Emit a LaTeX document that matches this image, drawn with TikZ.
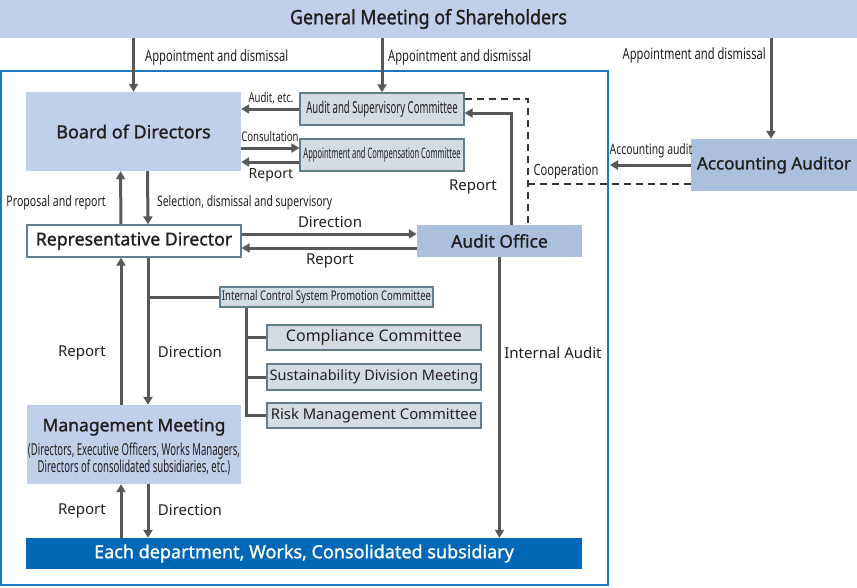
\documentclass[tikz,border=0pt]{standalone}
\usepackage{fontspec}
\setmainfont{Noto Sans}
\newfontfamily\cond[FakeStretch=0.72]{Noto Sans}
\newfontfamily\xxcond[FakeStretch=0.58]{Noto Sans}
\newfontfamily\xxxcond[FakeStretch=0.52]{Noto Sans}
\newfontfamily\med[FakeBold=1.2]{Noto Sans}
\newfontfamily\semicond[FakeStretch=0.9,FakeBold=1.2]{Noto Sans}
\usetikzlibrary{arrows.meta,calc}
\definecolor{banner}{RGB}{193,207,234}
\definecolor{boardc}{RGB}{193,207,234}
\definecolor{officec}{RGB}{173,191,223}
\definecolor{commfill}{RGB}{211,220,227}
\definecolor{commdraw}{RGB}{100,125,142}
\definecolor{deptc}{RGB}{0,104,183}
\definecolor{framec}{RGB}{30,120,190}
\definecolor{linec}{RGB}{88,88,88}
\definecolor{txt}{RGB}{35,30,30}
\tikzset{
  box/.style={inner sep=0pt, align=center, text=txt},
  bigbox/.style={box, fill=boardc, font=\fontsize{18}{19}\selectfont\med},
  officebox/.style={box, fill=officec, font=\fontsize{17.5}{19}\selectfont\med},
  commbox/.style={box, fill=commfill, draw=commdraw, line width=1.3pt},
  arr/.style={draw=linec, line width=3pt, -{Triangle[length=8pt,width=9pt]}},
  plain/.style={draw=linec, line width=3pt},
  dashline/.style={draw=txt!90, line width=2pt, dash pattern=on 7pt off 5pt},
  lab/.style={inner sep=0pt, text=txt, yshift=-1.5pt, font=\fontsize{15}{17}\selectfont},
  clab/.style={inner sep=0pt, text=txt, yshift=-1pt, font=\fontsize{15.5}{17}\selectfont\cond},
  slab/.style={inner sep=0pt, text=txt, yshift=-1pt, font=\fontsize{13.3}{15}\selectfont\cond},
}
\begin{document}
\begin{tikzpicture}[x=1pt,y=-1pt]
\useasboundingbox (0,0) rectangle (857,587);
% frame
\draw[framec, line width=1.5pt] (1,71) rectangle (608,585);
% nodes
\node[box, fill=banner, minimum width=857pt, minimum height=38pt, font=\fontsize{19.8}{21}\selectfont\semicond] (gm) at (428.5,19) {General Meeting of Shareholders};
\node[bigbox, minimum width=215pt, minimum height=79pt] (board) at (133.5,131.5) {Board of Directors};
\node[commbox, minimum width=164pt, minimum height=32pt, font=\fontsize{16.5}{17}\selectfont\xxcond] (asc) at (382,109) {Audit and Supervisory Committee};
\node[commbox, minimum width=164pt, minimum height=32pt, font=\fontsize{14.5}{15}\selectfont\xxxcond] (acc) at (382,155) {Appointment and Compensation Committee};
\node[box, fill=white, draw=commdraw, line width=1.3pt, minimum width=214pt, minimum height=32pt, font=\fontsize{17.7}{19}\selectfont\med] (rep) at (134,241) {Representative Director};
\node[officebox, minimum width=165pt, minimum height=32pt] (ao) at (499.5,241) {Audit Office};
\node[officebox, minimum width=166pt, minimum height=52pt, font=\fontsize{17}{19}\selectfont\med] (aa) at (774,165) {Accounting Auditor};
\node[commbox, minimum width=213pt, minimum height=20pt, font=\fontsize{13.3}{14}\selectfont\cond] (ics) at (326.5,297) {Internal Control System Promotion Committee};
\node[commbox, minimum width=214pt, minimum height=25pt, font=\fontsize{16}{17}\selectfont] (comp) at (374,337.5) {Compliance Committee};
\node[commbox, minimum width=214pt, minimum height=26pt, font=\fontsize{14.5}{17}\selectfont] (sust) at (374,377) {Sustainability Division Meeting};
\node[commbox, minimum width=214pt, minimum height=25pt, font=\fontsize{14.8}{17}\selectfont] (risk) at (374,415.5) {Risk Management Committee};
\node[box, fill=boardc, minimum width=214pt, minimum height=79pt] (mm) at (134,444.5) {};
\node[box, font=\fontsize{17.5}{19}\selectfont\med] (mmt) at (134,427) {Management Meeting};
\node[box, font=\fontsize{16.5}{16.5}\selectfont\xxcond] (mms) at (134,459) {(Directors, Executive Officers, Works Managers,\\Directors of consolidated subsidiaries, etc.)};
\node[box, fill=deptc, text=white, minimum width=556pt, minimum height=31pt, font=\fontsize{18}{20}\selectfont\med] (dept) at (304,553.5) {Each department, Works, Consolidated subsidiary};
% coordinates
\coordinate (aaend) at (610,165);
\coordinate (dx) at ([xshift=28.5pt]ao.north);
\coordinate (coop) at ([yshift=-19pt]aa.west);
% appointment arrows
\draw[arr] (gm.south -| board) -- (board.north);
\draw[arr] (gm.south -| asc) -- (asc.north);
\draw[arr] ([xshift=-3pt]gm.south -| aa) -- ([xshift=-3pt]aa.north);
\node[clab, anchor=west] at (145,56) {Appointment and dismissal};
\node[clab, anchor=west] at (388,56) {Appointment and dismissal};
\node[clab, anchor=east] at (766,54) {Appointment and dismissal};
% board - committees
\draw[arr] (asc.west) -- (asc.west -| board.east);
\node[slab] at (271,97) {Audit, etc.};
\draw[arr] ([yshift=7pt]acc.west -| board.east) -- ([yshift=7pt]acc.west);
\node[slab] at (270,136) {Consultation};
\draw[arr] ([yshift=-7pt]acc.west) -- ([yshift=-7pt]acc.west -| board.east);
\node[lab, font=\fontsize{14}{16}\selectfont] at (271,174) {Report};
% audit office - asc
\draw[arr] ([xshift=11.5pt]ao.north) |- ([yshift=-4pt]asc.east);
\node[lab] at (473,185) {Report};
% cooperation dashed
\draw[dashline] ([yshift=10pt]asc.east) -| (dx);
\draw[dashline] (coop) -- (coop -| dx);
\node[clab] at (566,171) {Cooperation};
% accounting audit
\draw[arr] (aa.west) -- (aaend);
\node[slab, font=\fontsize{14.4}{16}\selectfont\cond] at (651,150) {Accounting audit};
% board - rep
\draw[arr] ([xshift=-13pt]rep.north) -- ([xshift=-13pt]board.south);
\draw[arr] ([xshift=14pt]board.south) -- ([xshift=14pt]rep.north);
\node[clab, font=\fontsize{14.7}{16}\selectfont\cond, anchor=east] at (106,202) {Proposal and report};
\node[clab, font=\fontsize{14.4}{16}\selectfont\cond, anchor=west] at (157,202) {Selection, dismissal and supervisory};
% rep - audit office
\draw[arr] ([yshift=7pt]rep.east) -- ([yshift=7pt]rep.east -| ao.west);
\draw[arr] ([yshift=-7pt]ao.west) -- ([yshift=-7pt]ao.west -| rep.east);
\node[lab] at (330,221) {Direction};
\node[lab] at (330,259) {Report};
% rep - mm
\draw[arr] ([xshift=-13pt]mm.north) -- ([xshift=-13pt]rep.south);
\draw[arr] ([xshift=14pt]rep.south) -- ([xshift=14pt]mm.north);
\node[lab] at (82,351) {Report};
\node[lab] at (190,351) {Direction};
% internal control tree
\draw[plain] ([xshift=14pt]rep.south |- ics.west) -- (ics.west);
\draw[plain] ([xshift=27pt]ics.south west) |- (risk.west);
\draw[plain] ([xshift=27pt]ics.south west |- comp.west) -- (comp.west);
\draw[plain] ([xshift=27pt]ics.south west |- sust.west) -- (sust.west);
% internal audit
\draw[arr] (ao.south) -- (ao.south |- dept.north);
\node[lab] at (553,351) {Internal Audit};
% mm - dept
\draw[arr] ([xshift=-13pt]dept.north -| mm) -- ([xshift=-13pt]mm.south);
\draw[arr] ([xshift=14pt]mm.south) -- ([xshift=14pt]dept.north -| mm);
\node[lab] at (82,509) {Report};
\node[lab] at (190,509) {Direction};
\end{tikzpicture}
\end{document}
